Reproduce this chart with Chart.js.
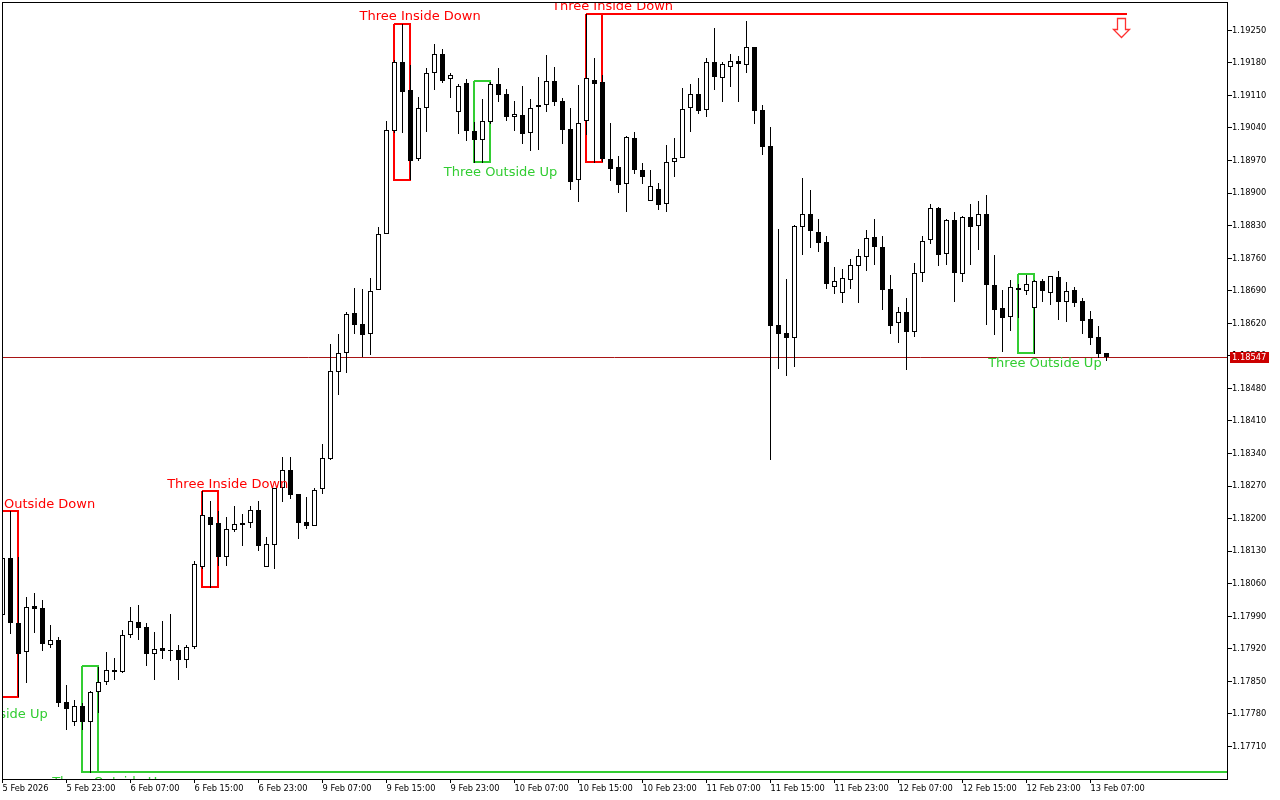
<!DOCTYPE html>
<html>
<head>
<meta charset="utf-8">
<title>Candles</title>
<script src="https://cdn.jsdelivr.net/npm/chart.js@4"></script>
<style>
html,body{margin:0;padding:0;background:#fff}
canvas{display:block}
</style>
</head>
<body>
<canvas id="Grafico" width="1280" height="800"></canvas>
<script>
const opens=[1.17992,1.18115,1.17975,1.17913,1.18012,1.18008,1.17928,1.17939,1.17805,1.17762,
1.17797,1.17762,1.17827,1.17848,1.17874,1.17870,1.17949,1.17977,1.17967,1.17909,
1.17921,1.17917,1.17917,1.17896,1.17924,1.18096,1.18203,1.18190,1.18117,1.18176,
1.18190,1.18190,1.18218,1.18096,1.18143,1.18266,1.18304,1.18253,1.18192,1.18185,
1.18263,1.18328,1.18515,1.18556,1.18642,1.18618,1.18597,1.18691,1.18812,1.19033,
1.19182,1.19121,1.18973,1.19083,1.19158,1.19199,1.19145,1.19074,1.19137,1.19033,
1.19014,1.19053,1.19134,1.19113,1.19064,1.19068,1.19029,1.19085,1.19089,1.19141,
1.19098,1.19038,1.18928,1.19055,1.19143,1.19139,1.18973,1.18956,1.18920,1.19018,
1.18949,1.18883,1.18909,1.18876,1.18967,1.18975,1.19083,1.19113,1.19079,1.19182,
1.19148,1.19171,1.19184,1.19176,1.19214,1.19079,1.19001,1.18616,1.18599,1.18589,
1.18827,1.18855,1.18816,1.18795,1.18698,1.18686,1.18713,1.18744,1.18763,1.18805,
1.18784,1.18694,1.18620,1.18644,1.18602,1.18728,1.18799,1.18868,1.18769,1.18842,
1.18726,1.18848,1.18829,1.18855,1.18702,1.18653,1.18633,1.18696,1.18690,1.18653,
1.18711,1.18686,1.18719,1.18666,1.18691,1.18668,1.18629,1.18590,1.18556];
const highs=[1.18126,1.18216,1.18117,1.18031,1.18040,1.18025,1.17971,1.17945,1.17842,1.17810,
1.17803,1.17829,1.17881,1.17913,1.17901,1.17960,1.18010,1.18014,1.17976,1.17956,
1.17980,1.17995,1.17928,1.17928,1.18109,1.18259,1.18238,1.18216,1.18203,1.18227,
1.18210,1.18227,1.18238,1.18160,1.18266,1.18332,1.18332,1.18253,1.18247,1.18266,
1.18360,1.18575,1.18597,1.18644,1.18696,1.18694,1.18717,1.18827,1.19055,1.19186,
1.19263,1.19175,1.19106,1.19169,1.19220,1.19210,1.19158,1.19134,1.19145,1.19053,
1.19102,1.19139,1.19169,1.19124,1.19098,1.19130,1.19102,1.19149,1.19197,1.19171,
1.19104,1.19083,1.19132,1.19285,1.19190,1.19154,1.19051,1.18980,1.19023,1.19031,
1.18965,1.18949,1.18921,1.19003,1.19018,1.19126,1.19134,1.19147,1.19190,1.19255,
1.19182,1.19199,1.19195,1.19270,1.19214,1.19089,1.19042,1.18823,1.18715,1.18831,
1.18932,1.18906,1.18844,1.18807,1.18741,1.18737,1.18758,1.18780,1.18820,1.18844,
1.18807,1.18724,1.18655,1.18674,1.18749,1.18807,1.18876,1.18870,1.18844,1.18859,
1.18850,1.18876,1.18883,1.18896,1.18767,1.18691,1.18713,1.18704,1.18724,1.18713,
1.18715,1.18721,1.18732,1.18709,1.18698,1.18674,1.18646,1.18614,1.18556];
const lows=[1.17982,1.17952,1.17816,1.17846,1.17954,1.17915,1.17921,1.17795,1.17746,1.17754,
1.17745,1.17653,1.17782,1.17843,1.17853,1.17868,1.17944,1.17939,1.17883,1.17853,
1.17898,1.17894,1.17853,1.17878,1.17919,1.18092,1.18051,1.18098,1.18098,1.18172,
1.18141,1.18180,1.18131,1.18096,1.18092,1.18236,1.18242,1.18157,1.18178,1.18184,
1.18253,1.18326,1.18466,1.18513,1.18597,1.18547,1.18552,1.18691,1.18812,1.19029,
1.19030,1.18928,1.18969,1.19032,1.19122,1.19137,1.19105,1.19027,1.19012,1.18965,
1.18965,1.19048,1.19096,1.19055,1.19034,1.19006,1.18991,1.18993,1.19075,1.19088,
1.19006,1.18907,1.18881,1.19025,1.18965,1.18967,1.18926,1.18900,1.18859,1.18941,
1.18919,1.18883,1.18863,1.18860,1.18935,1.18975,1.19031,1.19070,1.19063,1.19121,
1.19096,1.19128,1.19096,1.19159,1.19048,1.18982,1.18326,1.18522,1.18507,1.18526,
1.18767,1.18782,1.18774,1.18694,1.18683,1.18664,1.18694,1.18664,1.18732,1.18745,
1.18648,1.18597,1.18578,1.18520,1.18591,1.18709,1.18791,1.18743,1.18746,1.18666,
1.18709,1.18746,1.18777,1.18616,1.18595,1.18558,1.18603,1.18631,1.18681,1.18554,
1.18666,1.18660,1.18627,1.18623,1.18655,1.18597,1.18573,1.18545,1.18539];
const closes=[1.18115,1.17976,1.17909,1.18010,1.18006,1.17931,1.17939,1.17804,1.17791,1.17797,
1.17762,1.17827,1.17848,1.17874,1.17870,1.17949,1.17980,1.17965,1.17909,1.17919,
1.17916,1.17915,1.17896,1.17924,1.18102,1.18208,1.18187,1.18118,1.18177,1.18188,
1.18187,1.18218,1.18141,1.18145,1.18266,1.18304,1.18251,1.18191,1.18185,1.18261,
1.18330,1.18517,1.18556,1.18640,1.18617,1.18595,1.18689,1.18812,1.19035,1.19182,
1.19118,1.18969,1.19083,1.19158,1.19199,1.19141,1.19154,1.19130,1.19034,1.19015,
1.19055,1.19134,1.19111,1.19064,1.19070,1.19027,1.19083,1.19089,1.19141,1.19096,
1.19036,1.18924,1.19051,1.19147,1.19135,1.18974,1.18952,1.18918,1.19020,1.18950,
1.18935,1.18915,1.18875,1.18967,1.18975,1.19081,1.19113,1.19077,1.19182,1.19150,
1.19177,1.19184,1.19177,1.19214,1.19077,1.19000,1.18615,1.18597,1.18589,1.18829,
1.18855,1.18819,1.18793,1.18705,1.18711,1.18717,1.18745,1.18764,1.18803,1.18784,
1.18692,1.18615,1.18644,1.18602,1.18728,1.18797,1.18868,1.18767,1.18842,1.18728,
1.18848,1.18827,1.18855,1.18703,1.18649,1.18632,1.18698,1.18692,1.18705,1.18711,
1.18690,1.18721,1.18666,1.18689,1.18664,1.18625,1.18589,1.18554,1.18547];

const lastPrice=1.18547;
const yTicks=[1.1925,1.1918,1.1911,1.1904,1.1897,1.189,1.1883,1.1876,1.1869,1.1862,1.1855,1.1848,1.1841,1.1834,1.1827,1.182,1.1813,1.1806,1.1799,1.1792,1.1785,1.1778,1.1771];
const xTickBars=[0,8,16,24,32,40,48,56,64,72,80,88,96,104,112,120,128,136];
const xTickLabels=['5 Feb 2026','5 Feb 23:00','6 Feb 07:00','6 Feb 15:00','6 Feb 23:00','9 Feb 07:00','9 Feb 15:00','9 Feb 23:00','10 Feb 07:00','10 Feb 15:00','10 Feb 23:00','11 Feb 07:00','11 Feb 15:00','11 Feb 23:00','12 Feb 07:00','12 Feb 15:00','12 Feb 23:00','13 Feb 07:00'];

// pattern boxes
const boxStart=[0,10,25,49,59,73,127];
const boxEnd=[2,12,27,51,61,75,129];
const boxHigh=[1.18216,1.17881,1.18259,1.19263,1.19139,1.19285,1.18724];
const boxLow=[1.17816,1.17653,1.18051,1.18928,1.18965,1.18965,1.18554];
const boxColor=['#ff0000','#32cd32','#ff0000','#ff0000','#32cd32','#ff0000','#32cd32'];
const boxLineTop=[null,null,null,null,null,140.65,null];
const boxLineBottom=[null,153.1,null,null,null,null,null];

// pattern names
const labelText=['Three Outside Down','Three Outside Up','Three Outside Up','Three Inside Down','Three Inside Down','Three Outside Up','Three Inside Down','Three Outside Up'];
const labelBar=[3.3,-1.44,13.3,28.15,52.2,62.25,76.25,130.3];
const labelPrice=[1.18231,1.17778,1.17633,1.18274,1.19279,1.18945,1.193,1.18533];
const labelColor=['#ff0000','#32cd32','#32cd32','#ff0000','#ff0000','#32cd32','#ff0000','#32cd32'];

const arrowBar=139.85, arrowPrice=1.19235;

const xMin=-0.0625, xMax=153.0625;
const yMin=1.176399, yMax=1.193109;

function rectangulo(i){
    let s=boxStart[i], e=boxEnd[i], h=boxHigh[i], l=boxLow[i];
    let puntos=[{x:s,y:h}];
    if(boxLineTop[i]!==null) puntos.push({x:boxLineTop[i],y:h});
    puntos.push({x:e,y:h},{x:e,y:l});
    if(boxLineBottom[i]!==null) puntos.push({x:boxLineBottom[i],y:l},{x:e,y:l});
    puntos.push({x:s,y:l},{x:s,y:h});
    return puntos;
}

let datasets=[
    {
        label:'cuerpos',
        data:opens.map((o,i)=>({x:i,y:[o,closes[i]]})),
        backgroundColor:opens.map((o,i)=>closes[i]>=o?'#ffffff':'#000000'),
        borderColor:'#000000',
        borderWidth:1,
        borderSkipped:false,
        inflateAmount:0,
        barThickness:5,
        grouped:false,
    },
    {
        label:'mechas',
        data:highs.map((h,i)=>({x:i,y:[lows[i],h]})),
        backgroundColor:'#000000',
        borderWidth:0,
        inflateAmount:0,
        barThickness:1,
        grouped:false,
    },
    {
        type:'line',
        label:'precio',
        data:[{x:xMin,y:lastPrice},{x:xMax,y:lastPrice}],
        borderColor:'#a81414',
        borderWidth:1,
        pointRadius:0,
    },
];
boxStart.forEach((s,i)=>{
    datasets.push({
        type:'line',
        label:'patron'+i,
        data:rectangulo(i),
        borderColor:boxColor[i],
        borderWidth:2,
        pointRadius:0,
        tension:0,
        borderJoinStyle:'miter',
    });
});

// snap the marks to whole pixels so they stay crisp
const ajustePixel={
    id:'ajustePixel',
    afterDatasetsUpdate(chart){
        chart.getSortedVisibleDatasetMetas().forEach(meta=>{
            if(meta.type==='bar'){
                meta.data.forEach(el=>{
                    el.y=Math.round(el.y);
                    el.base=Math.round(el.base);
                    if(el.y===el.base) el.base=el.y+1;
                });
            }else{
                let impar=meta.dataset.options.borderWidth%2===1;
                meta.data.forEach(el=>{
                    el.x=Math.floor(el.x);
                    el.y=Math.floor(el.y)+(impar?0.5:0);
                });
            }
        });
    }
};

const adornos={
    id:'adornos',
    afterDraw(chart){
        const ctx=chart.ctx, area=chart.chartArea, sx=chart.scales.x, sy=chart.scales.y;
        ctx.save();
        ctx.beginPath();
        ctx.rect(area.left,area.top,area.right-area.left,area.bottom-area.top);
        ctx.clip();
        ctx.font='13px "DejaVu Sans"';
        ctx.textAlign='center';
        ctx.textBaseline='middle';
        labelText.forEach((t,i)=>{
            ctx.fillStyle=labelColor[i];
            ctx.fillText(t,sx.getPixelForValue(labelBar[i]),sy.getPixelForValue(labelPrice[i]));
        });
        ctx.restore();

        // signal arrow
        let ax=Math.round(sx.getPixelForValue(arrowBar))+0.5, ay=Math.round(sy.getPixelForValue(arrowPrice))+0.5;
        ctx.save();
        ctx.beginPath();
        ctx.moveTo(ax-4,ay-19);
        ctx.lineTo(ax+4,ay-19);
        ctx.lineTo(ax+4,ay-8);
        ctx.lineTo(ax+8,ay-8);
        ctx.lineTo(ax,ay);
        ctx.lineTo(ax-8,ay-8);
        ctx.lineTo(ax-4,ay-8);
        ctx.closePath();
        ctx.fillStyle='#ffffff';
        ctx.fill();
        ctx.strokeStyle='#ff3030';
        ctx.lineWidth=1.3;
        ctx.stroke();
        ctx.restore();

        // frame
        ctx.save();
        ctx.strokeStyle='#000000';
        ctx.lineWidth=1;
        ctx.strokeRect(area.left+0.5,area.top+0.5,area.right-area.left,area.bottom-area.top);
        ctx.restore();

        // current price tag
        let py=Math.floor(sy.getPixelForValue(lastPrice));
        ctx.save();
        ctx.fillStyle='#cc0000';
        ctx.fillRect(1230,py-5,39,11);
        ctx.fillStyle='#ffffff';
        ctx.font='9.2px "DejaVu Sans Condensed"';
        ctx.textAlign='left';
        ctx.textBaseline='middle';
        ctx.fillText(lastPrice.toFixed(5),1232,py+1);
        ctx.restore();
    }
};

new Chart(document.getElementById('Grafico').getContext('2d'),{
    type:'bar',
    data:{datasets:datasets},
    options:{
        responsive:false,
        animation:false,
        events:[],
        layout:{padding:{left:2,top:2,right:0,bottom:0}},
        plugins:{legend:{display:false},tooltip:{enabled:false},title:{display:false}},
        scales:{
            x:{
                type:'linear',
                offset:false,
                min:xMin,
                max:xMax,
                afterFit(s){s.height=21;s.paddingLeft=0;s.paddingRight=0;},
                afterBuildTicks(s){s.ticks=xTickBars.map(v=>({value:v}));},
                grid:{offset:false,drawOnChartArea:false,drawTicks:true,tickLength:4,color:'#000000'},
                border:{display:false},
                ticks:{
                    autoSkip:false,
                    maxRotation:0,
                    minRotation:0,
                    align:'start',
                    padding:0,
                    color:'#000000',
                    font:{family:'"DejaVu Sans Condensed"',size:9.2},
                    callback:(v,i)=>xTickLabels[i],
                },
            },
            y:{
                type:'linear',
                position:'right',
                min:yMin,
                max:yMax,
                beginAtZero:false,
                afterFit(s){s.width=53;s.paddingTop=0;s.paddingBottom=0;},
                afterBuildTicks(s){s.ticks=yTicks.map(v=>({value:v}));},
                grid:{drawOnChartArea:false,drawTicks:true,tickLength:5,color:'#000000'},
                border:{display:false},
                ticks:{
                    autoSkip:false,
                    padding:0,
                    color:'#000000',
                    font:{family:'"DejaVu Sans Condensed"',size:9.2},
                    callback:v=>v.toFixed(5),
                },
            },
        },
    },
    plugins:[ajustePixel,adornos],
});
</script>
</body>
</html>
